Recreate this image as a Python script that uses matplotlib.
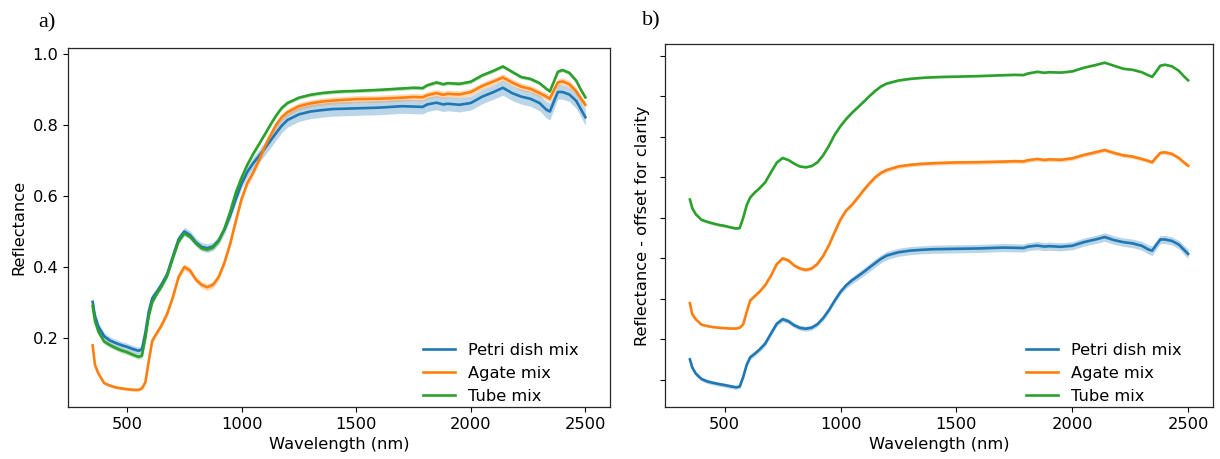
import numpy as np
import matplotlib
matplotlib.use("Agg")
import matplotlib.pyplot as plt

# --- Mean spectra (reflectance) and standard deviations per sample prep ---
wavelength = [350, 360, 375, 400, 425, 450, 475, 500, 525, 550,
              565, 580, 595, 610, 630, 650, 675, 700,
              725, 750, 775, 800, 825, 850, 875, 900, 925, 950, 975,
              1000, 1025, 1050, 1075, 1100, 1125, 1150, 1175, 1200,
              1250, 1300, 1350, 1400, 1450, 1500, 1600, 1700, 1750, 1790,
              1810, 1850, 1880, 1900, 1950, 2000, 2050, 2100, 2140, 2180,
              2220, 2260, 2300, 2330, 2345, 2360, 2380, 2400, 2430, 2460,
              2480, 2500]

petri_mean = [0.302, 0.262, 0.232, 0.205, 0.193, 0.186, 0.180, 0.175, 0.169, 0.164,
              0.168, 0.215, 0.275, 0.312, 0.330, 0.350, 0.380, 0.430,
              0.478, 0.500, 0.490, 0.470, 0.457, 0.453, 0.458, 0.475, 0.505, 0.545, 0.592,
              0.635, 0.668, 0.692, 0.712, 0.733, 0.755, 0.777, 0.798, 0.814,
              0.830, 0.838, 0.842, 0.845, 0.846, 0.847, 0.849, 0.853, 0.852, 0.851,
              0.858, 0.863, 0.858, 0.860, 0.857, 0.862, 0.880, 0.893, 0.905, 0.890,
              0.880, 0.874, 0.862, 0.843, 0.838, 0.862, 0.893, 0.893, 0.886, 0.868,
              0.845, 0.822]
petri_sd = [0.014, 0.012, 0.011, 0.010, 0.010, 0.010, 0.010, 0.010, 0.010, 0.010,
            0.010, 0.011, 0.012, 0.012, 0.012, 0.012, 0.012, 0.012,
            0.012, 0.012, 0.012, 0.012, 0.012, 0.012, 0.012, 0.012, 0.012, 0.012, 0.012,
            0.013, 0.015, 0.017, 0.018, 0.019, 0.020, 0.020, 0.020, 0.020,
            0.020, 0.020, 0.020, 0.020, 0.020, 0.020, 0.020, 0.020, 0.020, 0.020,
            0.020, 0.020, 0.020, 0.020, 0.020, 0.020, 0.020, 0.020, 0.021, 0.021,
            0.021, 0.021, 0.022, 0.023, 0.024, 0.022, 0.020, 0.020, 0.020, 0.021,
            0.022, 0.023]

agate_mean = [0.179, 0.125, 0.100, 0.073, 0.066, 0.061, 0.058, 0.056, 0.054, 0.054,
              0.058, 0.075, 0.135, 0.192, 0.214, 0.235, 0.268, 0.315,
              0.372, 0.400, 0.390, 0.365, 0.350, 0.343, 0.350, 0.372, 0.412, 0.465, 0.530,
              0.592, 0.637, 0.665, 0.700, 0.737, 0.770, 0.800, 0.822, 0.836,
              0.853, 0.861, 0.866, 0.869, 0.871, 0.873, 0.874, 0.877, 0.879, 0.878,
              0.884, 0.890, 0.885, 0.888, 0.886, 0.893, 0.910, 0.923, 0.934, 0.920,
              0.908, 0.902, 0.890, 0.880, 0.874, 0.895, 0.920, 0.923, 0.915, 0.895,
              0.875, 0.857]
agate_sd = [0.006, 0.005, 0.005, 0.004, 0.004, 0.004, 0.004, 0.004, 0.004, 0.004,
            0.004, 0.005, 0.006, 0.007, 0.007, 0.007, 0.008, 0.008,
            0.008, 0.009, 0.009, 0.009, 0.009, 0.009, 0.009, 0.009, 0.009, 0.009, 0.010,
            0.010, 0.010, 0.010, 0.010, 0.010, 0.010, 0.010, 0.010, 0.010,
            0.010, 0.010, 0.010, 0.010, 0.010, 0.010, 0.010, 0.010, 0.010, 0.010,
            0.010, 0.010, 0.010, 0.010, 0.010, 0.010, 0.010, 0.010, 0.010, 0.010,
            0.010, 0.010, 0.010, 0.010, 0.010, 0.010, 0.010, 0.010, 0.010, 0.010,
            0.010, 0.010]

tube_mean = [0.290, 0.248, 0.218, 0.190, 0.180, 0.172, 0.165, 0.160, 0.153, 0.147,
             0.150, 0.200, 0.262, 0.300, 0.325, 0.345, 0.375, 0.425,
             0.472, 0.495, 0.485, 0.467, 0.453, 0.449, 0.455, 0.473, 0.508, 0.555, 0.610,
             0.652, 0.688, 0.718, 0.745, 0.772, 0.800, 0.826, 0.848, 0.862,
             0.877, 0.885, 0.890, 0.893, 0.895, 0.896, 0.899, 0.903, 0.905, 0.904,
             0.912, 0.920, 0.915, 0.918, 0.916, 0.922, 0.940, 0.953, 0.965, 0.950,
             0.935, 0.930, 0.918, 0.902, 0.895, 0.918, 0.950, 0.955, 0.947, 0.925,
             0.900, 0.878]
tube_sd = [0.008, 0.007, 0.007, 0.007, 0.007, 0.007, 0.007, 0.007, 0.007, 0.007,
           0.007, 0.006, 0.006, 0.005, 0.005, 0.005, 0.005, 0.005,
           0.005, 0.005, 0.005, 0.005, 0.005, 0.005, 0.005, 0.005, 0.005, 0.005, 0.005,
           0.005, 0.005, 0.005, 0.005, 0.005, 0.005, 0.005, 0.005, 0.005,
           0.005, 0.005, 0.005, 0.005, 0.005, 0.005, 0.005, 0.005, 0.005, 0.005,
           0.005, 0.005, 0.005, 0.005, 0.005, 0.005, 0.005, 0.005, 0.005, 0.005,
           0.005, 0.005, 0.005, 0.005, 0.005, 0.005, 0.005, 0.005, 0.005, 0.005,
           0.005, 0.005]

labels = ["Petri dish mix", "Agate mix", "Tube mix"]
offsets = [0.0, 0.4, 0.8]
offset_ticks = [0.2, 0.4, 0.6, 0.8, 1.0, 1.2, 1.4, 1.6, 1.8]

colors = ["#1f77b4", "#ff7f0e", "#2ca02c"]
means = [petri_mean, agate_mean, tube_mean]
sds = [petri_sd, agate_sd, tube_sd]

plt.rcParams["font.size"] = 11.7
plt.rcParams["axes.linewidth"] = 0.9
plt.rcParams["axes.edgecolor"] = "#262626"

fig = plt.figure(figsize=(12.2, 4.59), dpi=100)
ax_a = fig.add_axes([68 / 1220, 52 / 459, 542 / 1220, 359 / 459])
ax_b = fig.add_axes([665 / 1220, 52 / 459, 548 / 1220, 363 / 459])

wl = np.array(wavelength)


def draw_spectra(ax, shifts):
    for lab, col, m, s, off in zip(labels, colors, means, sds, shifts):
        m = np.array(m) + off
        s = np.array(s)
        ax.fill_between(wl, m - s, m + s, color=col, alpha=0.3, lw=0)
        ax.plot(wl, m, color=col, lw=1.9, label=lab)
    ax.set_xlabel("Wavelength (nm)")
    ax.set_xlim(242.5, 2607.5)
    ax.set_xticks([500, 1000, 1500, 2000, 2500])
    ax.legend(loc="lower right", frameon=False, handlelength=2.0,
              borderaxespad=0, bbox_to_anchor=(0.955, -0.01))


# a) raw reflectance
draw_spectra(ax_a, [0.0, 0.0, 0.0])
ax_a.set_ylim(0.0056, 1.017)
ax_a.set_yticks([0.2, 0.4, 0.6, 0.8, 1.0])
ax_a.set_ylabel("Reflectance")

# b) same spectra stacked with an offset
draw_spectra(ax_b, offsets)
ax_b.set_ylim(0.067, 1.857)
ax_b.set_yticks(offset_ticks)
ax_b.set_yticklabels([])
ax_b.set_ylabel("Reflectance - offset for clarity")

fig.text(38 / 1220, 1 - 23 / 459, "a)", family="Liberation Serif",
         fontsize=16, va="center", ha="left")
fig.text(642 / 1220, 1 - 21 / 459, "b)", family="Liberation Serif",
         fontsize=16, va="center", ha="left")

fig.savefig("out.png", dpi=100)
